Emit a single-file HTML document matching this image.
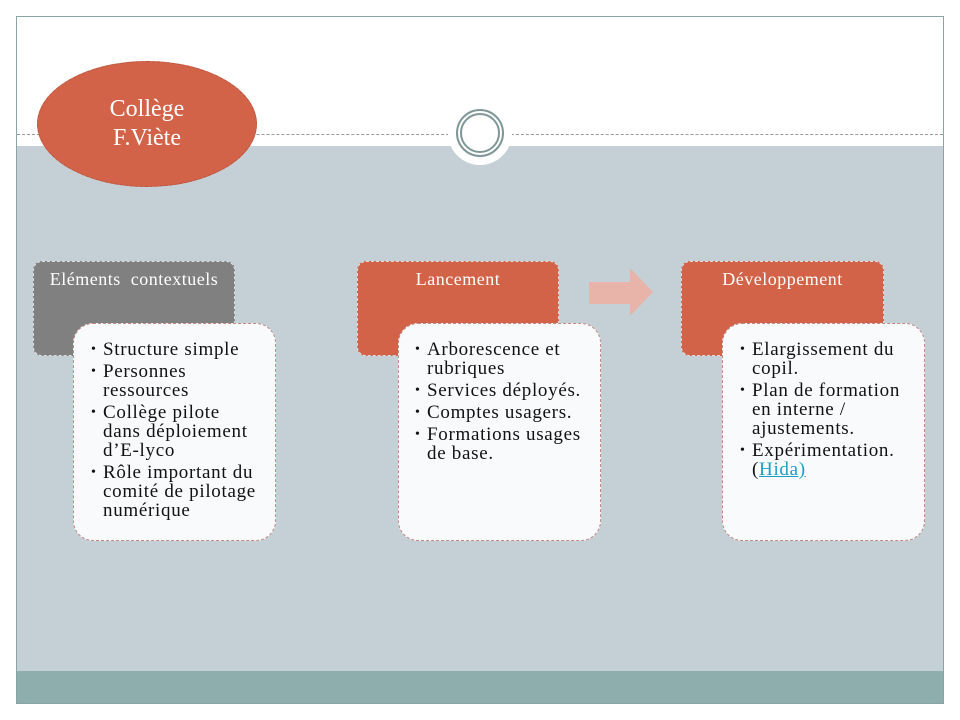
<!DOCTYPE html>
<html><head><meta charset="utf-8"><style>
*{margin:0;padding:0;box-sizing:border-box}
body{width:960px;height:720px;background:#fff;position:relative;overflow:hidden;font-family:"Liberation Serif",serif}
.a{position:absolute}
.hdr{border-radius:9px;border:1px dashed #ddd;color:#fff;font-size:18px;letter-spacing:0.5px;text-align:center;padding-top:7px;white-space:nowrap}
.box{background:#f9fafc;border:1px dashed #c08a80;border-radius:20px;font-size:19px;letter-spacing:0.7px;line-height:19px;color:#111;white-space:nowrap}
.box ul{list-style:none;margin:0}
.box li{position:relative;padding-left:12px;margin-bottom:3px}
.box li:before{content:"•";position:absolute;left:0;font-size:14px}
a{color:#1a9ec9;text-decoration:underline}
</style></head><body>
<div class="a" style="left:16px;top:16px;width:928px;height:688px;border:1px solid #8aa3a3"></div>
<div class="a" style="left:17px;top:146px;width:926px;height:525px;background:#c5cfd6"></div>
<div class="a" style="left:17px;top:671px;width:926px;height:32px;background:#8eaeae"></div>
<div class="a" style="left:17px;top:134px;width:926px;border-top:1px dashed #999"></div>
<div class="a" style="left:448px;top:101px;width:64px;height:64px;border-radius:50%;background:#fff"></div>
<div class="a" style="left:456px;top:109px;width:48px;height:48px;border-radius:50%;border:2px solid #7f9797"></div>
<div class="a" style="left:460px;top:113px;width:40px;height:40px;border-radius:50%;border:2px solid #7f9797"></div>
<div class="a" style="left:37px;top:61px;width:220px;height:126px;border-radius:50%;background:#d26348;border:1px dashed #b85540;color:#fff;font-size:24px;line-height:29px;text-align:center;padding-top:33px">Collège<br>F.Viète</div>

<div class="a hdr" style="left:33px;top:261px;width:202px;height:95px;background:#808080">Eléments&nbsp; contextuels</div>
<div class="a hdr" style="left:357px;top:261px;width:202px;height:95px;background:#d26348">Lancement</div>
<div class="a hdr" style="left:681px;top:261px;width:203px;height:95px;background:#d26348">Développement</div>

<svg class="a" style="left:589px;top:268px" width="65" height="49"><polygon points="0,14 41,14 41,0 64,24 41,48 41,36 0,36" fill="#e8b3a8"/></svg>

<div class="a box" style="left:73px;top:323px;width:203px;height:218px;padding:16px 0 0 17px">
<ul><li>Structure simple</li><li>Personnes<br>ressources</li><li>Collège pilote<br>dans déploiement<br>d’E-lyco</li><li>Rôle important du<br>comité de pilotage<br>numérique</li></ul></div>
<div class="a box" style="left:398px;top:323px;width:203px;height:218px;padding:16px 0 0 16px">
<ul><li>Arborescence et<br>rubriques</li><li>Services déployés.</li><li>Comptes usagers.</li><li>Formations usages<br>de base.</li></ul></div>
<div class="a box" style="left:722px;top:323px;width:203px;height:218px;padding:16px 0 0 17px">
<ul><li>Elargissement du<br>copil.</li><li>Plan de formation<br>en interne /<br>ajustements.</li><li>Expérimentation.<br>(<a>Hida)</a></li></ul></div>
</body></html>
